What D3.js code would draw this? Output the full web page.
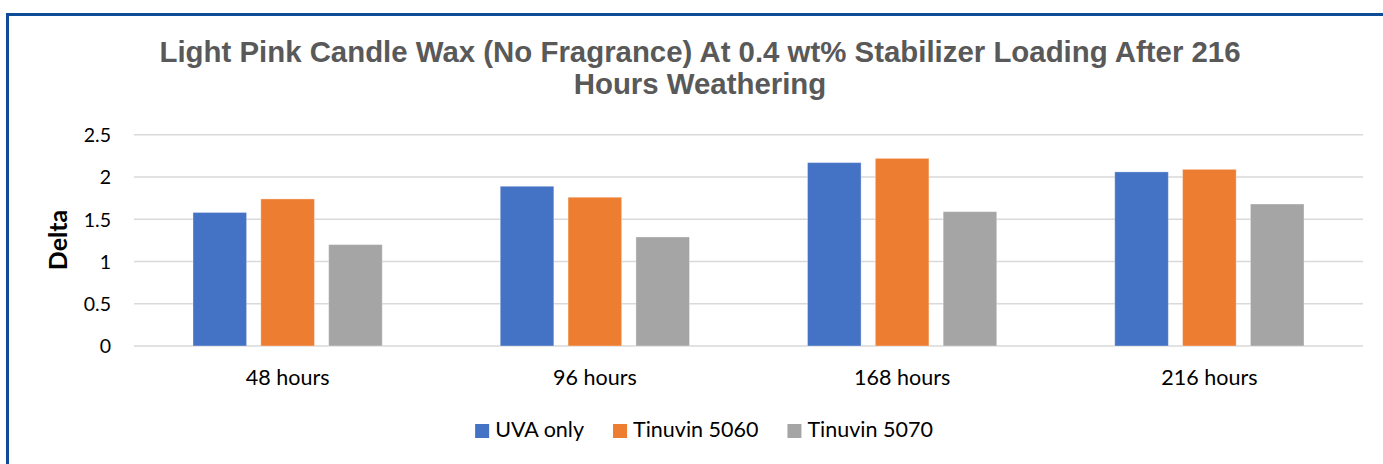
<!DOCTYPE html>
<html>
<head>
<meta charset="utf-8">
<script src="https://cdn.jsdelivr.net/npm/d3@7"></script>
<style>
  html, body { margin: 0; padding: 0; background: #fff; }
  svg { display: block; }
</style>
</head>
<body>
<svg id="chart" width="1383" height="464"></svg>
<script>
const titleLines = ["Light Pink Candle Wax (No Fragrance) At 0.4 wt% Stabilizer Loading After 216", "Hours Weathering"];
const categories = ["48 hours", "96 hours", "168 hours", "216 hours"];
const seriesNames = ["UVA only", "Tinuvin 5060", "Tinuvin 5070"];
const uvaOnly = [1.58, 1.89, 2.17, 2.06];
const tinuvin5060 = [1.74, 1.76, 2.22, 2.09];
const tinuvin5070 = [1.20, 1.29, 1.59, 1.68];
const yTicks = [0, 0.5, 1, 1.5, 2, 2.5];
const yLabel = "Delta";
const colors = ["#4472c4", "#ed7d31", "#a5a5a5"];

const seriesValues = [uvaOnly, tinuvin5060, tinuvin5070];
const svg = d3.select("#chart");
const W = 1383, H = 464;
const plot = { left: 134, right: 1363, top: 134.7, bottom: 346 };
const labelFont = "Lato, 'Open Sans', sans-serif";

// frame border (top and left)
svg.append("rect").attr("x", 0).attr("y", 0).attr("width", W).attr("height", H).attr("fill", "#fff");
svg.append("path")
  .attr("d", `M7.5,${H} L7.5,14.5 L${W},14.5`)
  .attr("fill", "none").attr("stroke", "#0f4c97").attr("stroke-width", 3);

// title
const title = svg.append("text").attr("text-anchor", "middle")
  .attr("font-family", "'Liberation Sans', Arial, sans-serif")
  .attr("font-weight", "bold").attr("font-size", 29.4).attr("fill", "#595959");
titleLines.forEach((t, i) => {
  title.append("tspan").attr("x", 700).attr("y", 62 + i * 32).text(t);
});

const x0 = d3.scaleBand().domain(categories).range([plot.left, plot.right]).paddingInner(0).paddingOuter(0);
const bw = x0.bandwidth();
const x1 = d3.scaleBand().domain(seriesNames).range([bw * 0.192, bw * 0.808]).paddingInner(0.21);
const y = d3.scaleLinear().domain([0, 2.5]).range([plot.bottom, plot.top]);

// gridlines
svg.append("g").selectAll("line").data(yTicks).join("line")
  .attr("x1", plot.left).attr("x2", plot.right)
  .attr("y1", d => y(d)).attr("y2", d => y(d))
  .attr("stroke", "#d9d9d9").attr("stroke-width", 1.6);

// y axis labels
const yAxis = d3.axisLeft(y).tickValues(yTicks).tickSize(0).tickPadding(0).tickFormat(d3.format("~g"));
const yg = svg.append("g").attr("transform", `translate(111,0)`).call(yAxis);
yg.select(".domain").remove();
yg.selectAll("text").attr("font-family", labelFont).attr("font-size", 19.5).attr("fill", "#000").attr("dy", "0.35em");

// y axis title
svg.append("text").attr("transform", "translate(67,240) rotate(-90)")
  .attr("text-anchor", "middle").attr("font-family", labelFont)
  .attr("font-weight", "bold").attr("font-size", 25).attr("fill", "#000").text(yLabel);

// bars
const groups = svg.append("g").selectAll("g").data(categories).join("g")
  .attr("transform", d => `translate(${x0(d)},0)`);
groups.selectAll("rect")
  .data((c, ci) => seriesNames.map((s, si) => ({ s, si, v: seriesValues[si][ci] })))
  .join("rect")
  .attr("x", d => x1(d.s)).attr("width", x1.bandwidth())
  .attr("y", d => y(d.v)).attr("height", d => y(0) - y(d.v))
  .attr("fill", d => colors[d.si])
  .attr("stroke", "#fff").attr("stroke-opacity", 0.35).attr("stroke-width", 1);

// x axis labels
const xAxis = d3.axisBottom(x0).tickSize(0).tickPadding(0);
const xg = svg.append("g").attr("transform", `translate(0,${plot.bottom})`).call(xAxis);
xg.select(".domain").remove();
xg.selectAll("text").attr("font-family", labelFont).attr("font-size", 21.5).attr("fill", "#000")
  .attr("dy", 0).attr("y", 39);

// legend
const legend = svg.append("g");
const items = legend.selectAll("g").data(seriesNames).join("g");
items.append("rect").attr("width", 14).attr("height", 14).attr("y", -13)
  .attr("fill", (d, i) => colors[i]);
items.append("text").attr("x", 20).attr("font-family", labelFont).attr("font-size", 21.5)
  .attr("fill", "#000").text(d => d);
let cx = 0;
items.each(function () {
  const g = d3.select(this);
  g.attr("transform", `translate(${cx},0)`);
  cx += 20 + g.select("text").node().getComputedTextLength() + 29;
});
const totalW = cx - 29;
legend.attr("transform", `translate(${704 - totalW / 2},437)`);
</script>
</body>
</html>
